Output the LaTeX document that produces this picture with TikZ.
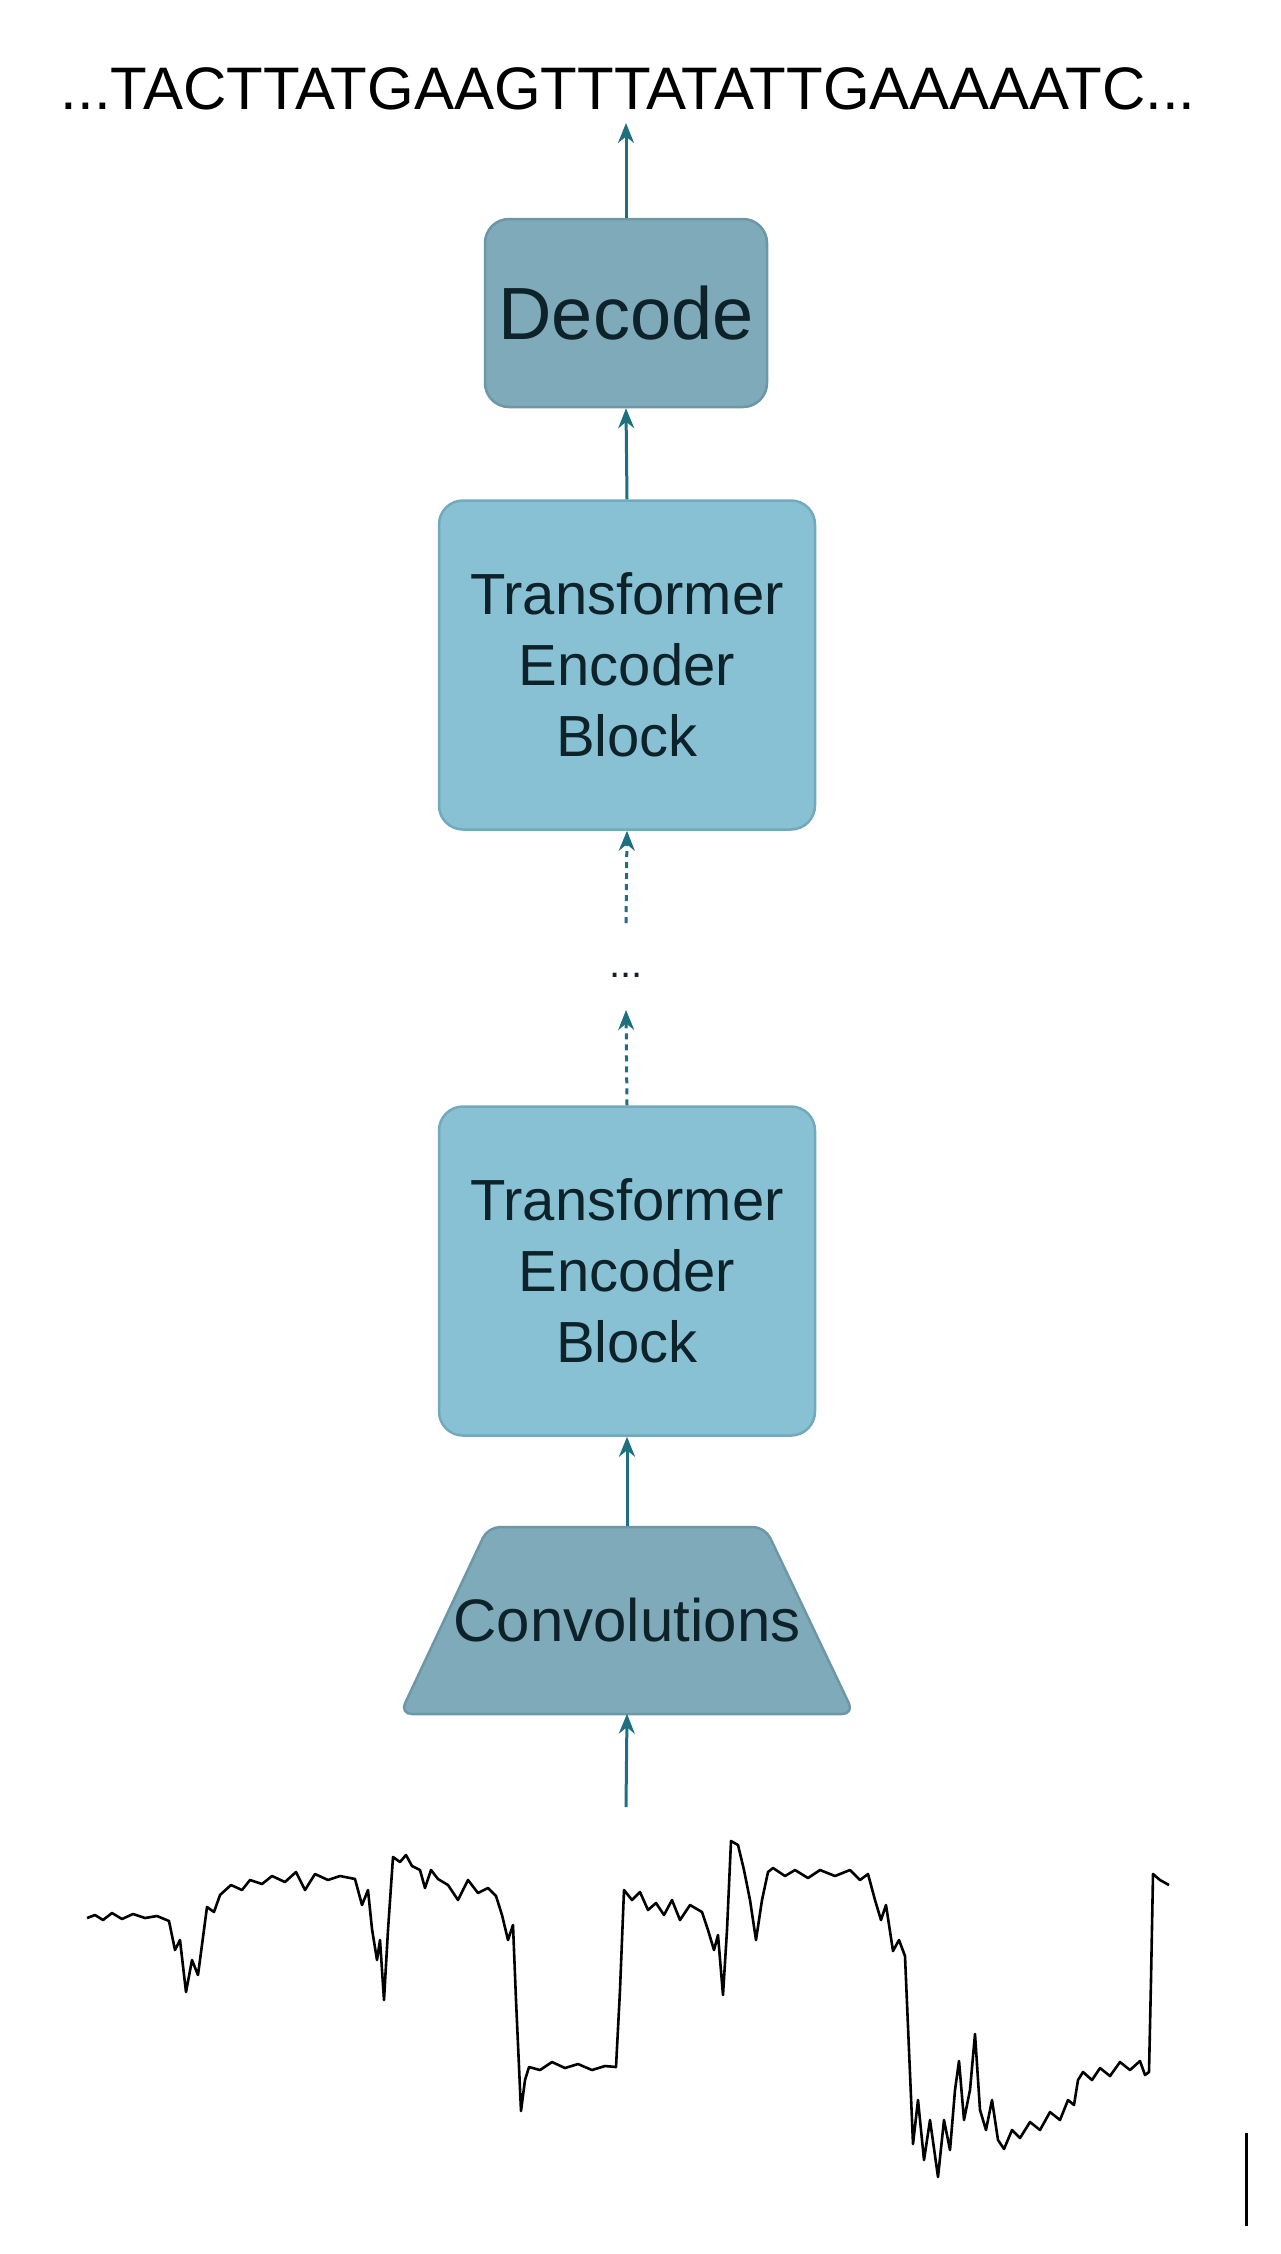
\documentclass[tikz,border=0pt]{standalone}
\usepackage{fontspec}
\setmainfont{Liberation Sans}
\usetikzlibrary{arrows.meta}
\definecolor{dark}{HTML}{7FAAB9}
\definecolor{darkb}{HTML}{6B97A7}
\definecolor{light}{HTML}{88C1D4}
\definecolor{lightb}{HTML}{72A9BC}
\definecolor{arr}{HTML}{1E6F80}
\definecolor{txt}{HTML}{0E2229}
\begin{document}
\begin{tikzpicture}[x=1pt,y=-1pt,
  box/.style={draw=#1,line width=2.5pt,rounded corners=24pt,inner sep=0pt,align=center,text=txt},
  teb/.style={box=lightb,fill=light,minimum width=376pt,minimum height=329pt,font=\fontsize{58}{71}\selectfont},
  ar/.style={draw=arr,line width=3pt,-{Stealth[length=20pt,width=16pt]}},
  dar/.style={ar,dash pattern=on 6pt off 5pt}]
\useasboundingbox (0,0) rectangle (1280,2254);
\node[font=\fontsize{60}{64}\selectfont] (seq) at (628,89) {...TACTTATGAAGTTTATATTGAAAAATC...};
\node[box=darkb,fill=dark,minimum width=282pt,minimum height=188pt,font=\fontsize{74}{78}\selectfont] (dec) at (626,313) {Decode};
\node[teb] (t2) at (627,665) {Transformer\\Encoder\\Block};
\node[font=\fontsize{40}{40}\selectfont,text=txt] (dots) at (626,975) {...};
\node[teb] (t1) at (627,1271) {Transformer\\Encoder\\Block};
\coordinate (ctl) at (488,1527);
\coordinate (ctr) at (765,1527);
\coordinate (cbr) at (854,1714);
\coordinate (cbl) at (400,1714);
\draw[draw=darkb,line width=2.5pt,fill=dark,rounded corners=12pt] (ctl) -- (ctr) -- (cbr) -- (cbl) -- cycle;
\node[inner sep=0pt,minimum width=454pt,minimum height=187pt,text=txt,font=\fontsize{60}{64}\selectfont] (conv) at (627,1620) {Convolutions};
\coordinate (sig) at (626,1807);
\coordinate (seqb) at (626,123);
\draw[ar] (dec.north) -- (seqb);
\draw[ar] (t2.north) -- (dec.south);
\draw[dar] (dots.north |- 0,923) -- (t2.south);
\draw[dar] (t1.north) -- (dots.north |- 0,1010);
\draw[ar] (conv.north) -- (t1.south);
\draw[ar] (sig) -- (conv.south);
% signal trace
\draw[black,line width=2.6pt,line join=round]
 (87,1918)--(95,1915)--(103,1920)--(112,1913)--(122,1919)--(133,1914)--(145,1918)--(157,1916)--(169,1921)
 --(175,1950)--(180,1940)--(186,1992)--(192,1960)--(198,1975)--(207,1907)--(214,1912)--(220,1895)--(231,1885)
 --(242,1890)--(250,1880)--(262,1884)--(272,1876)--(285,1882)--(296,1872)--(305,1890)--(315,1874)--(328,1880)--(340,1876)--(355,1879)
 --(362,1905)--(368,1890)--(372,1929)--(377,1960)--(380,1940)--(384,2000)--(388,1930)--(393,1857)--(400,1862)--(406,1855)--(412,1866)
 --(420,1870)--(425,1888)--(431,1870)--(438,1879)--(448,1885)--(458,1900)--(468,1880)--(478,1893)--(488,1888)--(496,1896)
 --(502,1915)--(508,1940)--(513,1925)--(516,2000)--(521,2111)--(525,2080)--(529,2067)--(540,2070)--(552,2062)--(565,2068)--(578,2064)--(592,2070)--(605,2066)--(616,2067)
 --(620,1990)--(624,1890)--(632,1900)--(640,1892)--(648,1910)--(656,1903)--(664,1915)--(672,1900)--(680,1920)--(690,1905)--(702,1912)
 --(708,1930)--(714,1950)--(718,1935)--(723,1995)--(727,1930)--(731,1841)--(738,1845)--(744,1870)--(750,1900)--(756,1940)--(762,1900)--(768,1872)--(773,1868)
 --(785,1876)--(795,1870)--(808,1878)--(820,1870)--(835,1876)--(850,1870)--(860,1880)--(868,1874)
 --(875,1900)--(881,1920)--(886,1905)--(893,1951)--(899,1940)--(905,1956)--(909,2050)--(913,2144)--(918,2100)--(924,2160)--(930,2120)--(938,2177)
 --(944,2120)--(950,2150)--(955,2090)--(959,2061)--(964,2120)--(970,2090)--(975,2034)--(980,2110)--(986,2130)--(992,2100)--(998,2140)--(1004,2149)
 --(1012,2130)--(1020,2138)--(1030,2122)--(1040,2130)--(1050,2112)--(1060,2120)--(1068,2100)--(1074,2105)--(1078,2080)--(1083,2072)
 --(1092,2080)--(1100,2068)--(1110,2076)--(1120,2062)--(1130,2070)--(1140,2061)--(1145,2075)--(1149,2072)--(1151,1980)--(1153,1874)--(1160,1880)--(1169,1885);
\coordinate (sbt) at (1246,2133);
\coordinate (sbb) at (1246,2226);
\draw[black,line width=3pt] (sbt) -- (sbb);
\end{tikzpicture}
\end{document}
